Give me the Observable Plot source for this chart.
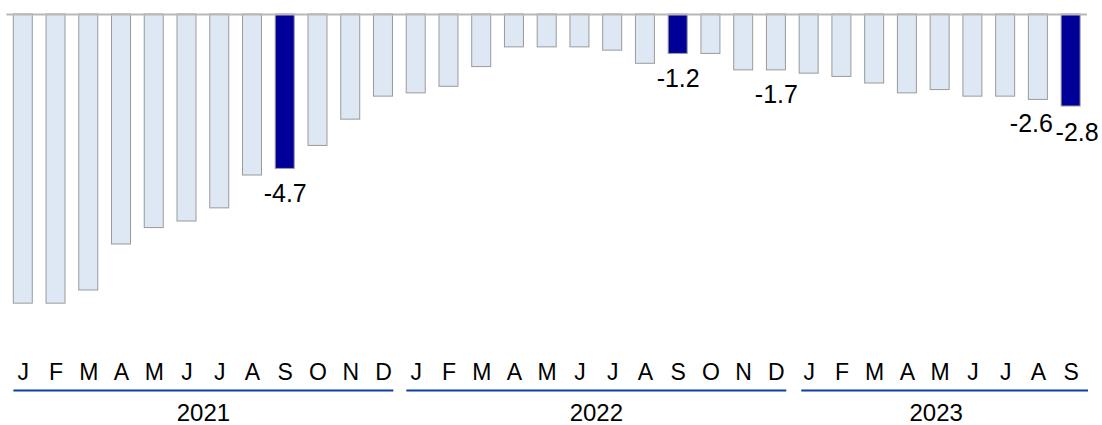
<!DOCTYPE html>
<html>
<head>
<meta charset="utf-8">
<script src="https://cdn.jsdelivr.net/npm/d3@7"></script>
<script src="https://cdn.jsdelivr.net/npm/@observablehq/plot@0.6"></script>
<style>
  html, body { margin: 0; padding: 0; background: #fff; }
  #chart svg { display: block; }
</style>
</head>
<body>
<div id="chart"></div>
<script>
// ---- data ----
const monthLetters = ["J","F","M","A","M","J","J","A","S","O","N","D"];
const years = ["2021", "2022", "2023"];
const values2021 = [-8.8, -8.8, -8.4, -7.0, -6.5, -6.3, -5.9, -4.9, -4.7, -4.0, -3.2, -2.5];
const values2022 = [-2.4, -2.2, -1.6, -1.0, -1.0, -1.0, -1.1, -1.5, -1.2, -1.2, -1.7, -1.7];
const values2023 = [-1.8, -1.9, -2.1, -2.4, -2.3, -2.5, -2.5, -2.6, -2.8];
const highlighted = ["2021-09", "2022-09", "2023-09"];
const labelledMonths = ["2021-09", "2022-09", "2022-12"];
const shiftedLeftLabel = ["2023-08"];
const shiftedRightLabel = ["2023-09"];

// ---- build table ----
const seriesByYear = {"2021": values2021, "2022": values2022, "2023": values2023};
const rows = [];
for (const yr of years) {
  seriesByYear[yr].forEach((v, i) => {
    const key = `${yr}-${String(i + 1).padStart(2, "0")}`;
    rows.push({key, year: yr, month: i, letter: monthLetters[i], value: v, hi: highlighted.includes(key)});
  });
}
const keys = rows.map(d => d.key);
const letterOf = new Map(rows.map(d => [d.key, d.letter]));
const yearSpans = years.map((yr, j) => {
  const r = rows.filter(d => d.year === yr);
  const n = r.length;
  return {
    year: yr,
    first: r[0].key,
    last: r[n - 1].key,
    mid: r[Math.floor(n / 2)].key,
    even: n % 2 === 0,
    isLast: j === years.length - 1
  };
});
const fmt = v => v.toFixed(1);

const font = "'Liberation Sans', Arial, Helvetica, sans-serif";
const yDomain = [-10.5, 0];
const yFloor = yDomain[0];   // bottom of the frame
const W = 1102, ML = 6.4, MR = 15;
const step = (W - ML - MR) / keys.length;
const barInset = step * 0.21;
const yearLineStyle = {stroke: "#0a3ea3", strokeWidth: 2, dy: 31};

const chart = Plot.plot({
  width: W,
  height: 425,
  marginTop: 14,
  marginBottom: 66,
  marginLeft: ML,
  marginRight: MR,
  style: {fontFamily: font, background: "#fff", color: "#000"},
  x: {domain: keys, type: "band", padding: 0, round: false, axis: null},
  y: {domain: yDomain, axis: null},
  marks: [
    Plot.barY(rows, {
      x: "key", y: "value",
      insetLeft: barInset, insetRight: barInset,
      fill: d => d.hi ? "#000099" : "#dde8f4",
      stroke: "#9a9a9a", strokeWidth: 1
    }),
    Plot.ruleY([0], {stroke: "#b8b8b8", strokeWidth: 2}),
    Plot.text(rows.filter(d => labelledMonths.includes(d.key)), {
      x: "key", y: "value", text: d => fmt(d.value),
      lineAnchor: "top", dy: 15, fontSize: 25, fill: "#000"
    }),
    Plot.text(rows.filter(d => shiftedLeftLabel.includes(d.key)), {
      x: "key", y: "value", text: d => fmt(d.value),
      lineAnchor: "top", dy: 14, dx: -7, fontSize: 25, fill: "#000"
    }),
    Plot.text(rows.filter(d => shiftedRightLabel.includes(d.key)), {
      x: "key", y: "value", text: d => fmt(d.value),
      lineAnchor: "top", dy: 17, dx: 6, fontSize: 25, fill: "#000"
    }),
    Plot.axisX({
      tickSize: 0, tickPadding: 4, fontSize: 23,
      tickFormat: k => letterOf.get(k), fill: "#000"
    }),
    Plot.ruleY(yearSpans.filter(d => !d.isLast), {
      x1: "first", x2: "last", y: () => yFloor,
      insetLeft: 7, insetRight: 6, ...yearLineStyle
    }),
    Plot.ruleY(yearSpans.filter(d => d.isLast), {
      x1: "first", x2: "last", y: () => yFloor,
      insetLeft: 9, insetRight: -1, ...yearLineStyle
    }),
    Plot.text(yearSpans.filter(d => d.even), {
      x: "mid", frameAnchor: "bottom", lineAnchor: "middle", dy: 54, dx: -step / 2,
      text: "year", fontSize: 24, fill: "#000"
    }),
    Plot.text(yearSpans.filter(d => !d.even), {
      x: "mid", frameAnchor: "bottom", lineAnchor: "middle", dy: 54, dx: -4,
      text: "year", fontSize: 24, fill: "#000"
    })
  ]
});
document.getElementById("chart").append(chart);
</script>
</body>
</html>
